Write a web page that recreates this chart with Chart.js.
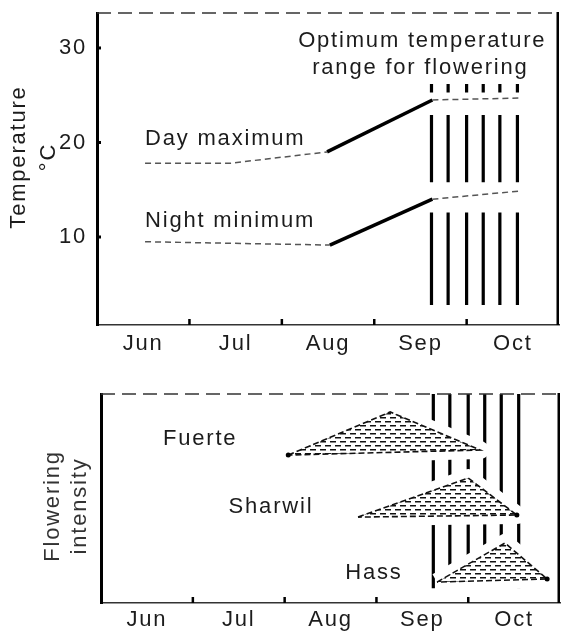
<!DOCTYPE html>
<html>
<head>
<meta charset="utf-8">
<script src="https://cdn.jsdelivr.net/npm/chart.js@4.4.1/dist/chart.umd.min.js"></script>
<style>
  html, body { margin: 0; padding: 0; background: #fff; overflow: hidden; }
  #wrap { position: relative; width: 568px; height: 634px; overflow: hidden; }
  canvas { position: absolute; left: 0; }
  #tempChart { top: 0; }
  #flowerChart { top: 360px; }
</style>
</head>
<body>
<div id="wrap">
  <canvas id="tempChart" width="568" height="360"></canvas>
  <canvas id="flowerChart" width="568" height="274"></canvas>
</div>
<script>
// x axis is in months: 0 = 1 June ... 5 = 1 November
const months = ["Jun", "Jul", "Aug", "Sep", "Oct"];
const monthMid = [0.5, 1.5, 2.5, 3.5, 4.5];
const monthEdges = [1, 2, 3, 4];
const tempTicks = [10, 20, 30];

// temperature, °C
const dayMaxX = [0.52, 1.44, 2.49, 3.63, 4.56];
const dayMax = [17.8, 17.8, 19.0, 24.5, 24.7];
const nightMinX = [0.52, 2.52, 3.63, 4.56];
const nightMin = [9.5, 9.15, 14.0, 14.85];

// optimum temperature range for flowering (vertical stripes)
const optimumX = [3.62, 3.80, 4.0, 4.18, 4.36, 4.55];
const optimumTempBands = [[26.2, 25.3], [22.9, 15.8], [12.6, 2.8]];
const optimumFlowerBand = [[10, 0.7]];

// flowering intensity (relative): start, peak, end of each cultivar
const cultivars = ["Fuerte", "Sharwil", "Hass"];
const flowerX = [[2.04, 3.15, 4.13], [2.80, 4.0, 4.53], [3.66, 4.40, 4.86]];
const flowerY = [[7.08, 9.14, 7.32], [4.11, 5.98, 4.21], [1.0, 2.87, 1.15]];

const FONT = "'Liberation Sans', Arial, Helvetica, sans-serif";
Chart.defaults.font.family = FONT;
Chart.defaults.font.size = 22;
Chart.defaults.color = "#1c1c1c";

function stripeData(bands) {
  const pts = [];
  optimumX.forEach(x => {
    bands.forEach(b => {
      pts.push({ x, y: b[0] }, { x, y: b[1] }, { x, y: null });
    });
  });
  return pts;
}

function hatch() {
  const c = document.createElement("canvas");
  c.width = 10; c.height = 8;
  const g = c.getContext("2d");
  g.fillStyle = "#111";
  g.fillRect(0, 1, 6, 1.5);
  g.fillRect(5, 5, 5, 1.5);
  g.fillRect(0, 5, 1, 1.5);
  return g.createPattern(c, "repeat");
}

function seg(ctx, x1, y1, x2, y2) {
  ctx.beginPath();
  ctx.moveTo(x1, y1);
  ctx.lineTo(x2, y2);
  ctx.stroke();
}

// spacing like the original lettering
const spacing = {
  id: "spacing",
  beforeDraw(chart) { chart.ctx.letterSpacing = "1.8px"; }
};

// top and right edges of the box, plus the small tick marks
function frame(chart, tickVals) {
  const { ctx, chartArea: a, scales: { x, y } } = chart;
  ctx.save();
  ctx.strokeStyle = "#333";
  ctx.lineWidth = 1.5;
  ctx.setLineDash([14, 7]);
  seg(ctx, a.left, a.top, a.right, a.top);
  ctx.setLineDash([]);
  ctx.fillStyle = "#000";
  ctx.fillRect(a.right - 2.5, a.top - 1, 2.5, a.bottom - a.top + 1);
  monthEdges.forEach(m => {
    const px = x.getPixelForValue(m);
    ctx.fillRect(px - 1.2, a.bottom - 6, 2.5, 6);
  });
  tickVals.forEach(v => {
    const py = y.getPixelForValue(v);
    ctx.fillRect(a.left, py - 1.5, 4, 3);
  });
  ctx.restore();
}

function label(ctx, text, px, py, align) {
  ctx.textAlign = align;
  ctx.textBaseline = "alphabetic";
  ctx.fillText(text, px, py);
}

function vtitle(ctx, text, px, py) {
  ctx.save();
  ctx.translate(px, py);
  ctx.rotate(-Math.PI / 2);
  ctx.textAlign = "center";
  ctx.textBaseline = "alphabetic";
  ctx.fillText(text, 0, 0);
  ctx.restore();
}

const tempDecor = {
  id: "tempDecor",
  afterDraw(chart) {
    const { ctx, scales: { x, y } } = chart;
    frame(chart, tempTicks);
    ctx.save();
    ctx.font = "22px " + FONT;
    ctx.letterSpacing = "1.8px";
    ctx.fillStyle = "#1c1c1c";
    label(ctx, "Optimum temperature", x.getPixelForValue(3.52), y.getPixelForValue(30.14), "center");
    label(ctx, "range for flowering", x.getPixelForValue(3.50), y.getPixelForValue(27.24), "center");
    label(ctx, "Day maximum", x.getPixelForValue(0.52), y.getPixelForValue(19.73), "left");
    label(ctx, "Night minimum", x.getPixelForValue(0.52), y.getPixelForValue(11.09), "left");
    vtitle(ctx, "Temperature", 25, 157);
    vtitle(ctx, "°C", 55, 157);
    ctx.restore();
  }
};

const flowerDecor = {
  id: "flowerDecor",
  afterDraw(chart) {
    const { ctx, scales: { x, y } } = chart;
    frame(chart, []);
    ctx.save();
    ctx.font = "22px " + FONT;
    ctx.letterSpacing = "1.8px";
    ctx.fillStyle = "#1c1c1c";
    label(ctx, cultivars[0], x.getPixelForValue(0.675), y.getPixelForValue(7.56), "left");
    label(ctx, cultivars[1], x.getPixelForValue(1.39), y.getPixelForValue(4.31), "left");
    label(ctx, cultivars[2], x.getPixelForValue(2.66), y.getPixelForValue(1.15), "left");
    ctx.fillStyle = "#333";
    vtitle(ctx, "Flowering", 59, 146);
    vtitle(ctx, "intensity", 86, 146);
    ctx.restore();
  }
};

const isRise = c => (c.p1.parsed.y - c.p0.parsed.y) / (c.p1.parsed.x - c.p0.parsed.x) > 3;
const curveSegment = {
  borderDash: c => isRise(c) ? [] : [6, 4],
  borderWidth: c => isRise(c) ? 3.5 : 1.5,
  borderColor: c => isRise(c) ? "#000" : "#555"
};

const noGrid = { display: false, drawTicks: false };

function scalesFor(xHeight, xPad, yMin, yMax, yWidth, yTicks) {
  return {
    x: {
      type: "linear", min: 0, max: 5,
      grid: noGrid,
      border: { color: "#333", width: 1.5, dash: [12, 6] },
      ticks: { padding: xPad, maxRotation: 0, autoSkip: false, callback: (v, i) => months[i] },
      afterBuildTicks: s => { s.ticks = monthMid.map(v => ({ value: v })); },
      afterFit: s => { s.height = xHeight; s.paddingLeft = 0; s.paddingRight = 0; }
    },
    y: {
      min: yMin, max: yMax,
      grid: noGrid,
      border: { color: "#000", width: 3 },
      ticks: { padding: 10, display: yTicks.length > 0 },
      afterBuildTicks: s => { if (yTicks.length) s.ticks = yTicks.map(v => ({ value: v })); },
      afterFit: s => { s.width = yWidth; s.paddingTop = 0; s.paddingBottom = 0; }
    }
  };
}

const common = {
  responsive: false,
  animation: false,
  events: [],
  plugins: { legend: { display: false }, tooltip: { enabled: false } },
  elements: { point: { radius: 0 }, line: { tension: 0, borderCapStyle: "butt" } }
};

new Chart(document.getElementById("tempChart"), {
  type: "line",
  data: {
    datasets: [
      {
        label: "Day maximum",
        data: dayMaxX.map((x, i) => ({ x, y: dayMax[i] })),
        segment: curveSegment, borderColor: "#555", order: 1
      },
      {
        label: "Night minimum",
        data: nightMinX.map((x, i) => ({ x, y: nightMin[i] })),
        segment: curveSegment, borderColor: "#555", order: 1
      },
      {
        label: "Optimum temperature range for flowering",
        data: stripeData(optimumTempBands),
        borderColor: "#000", borderWidth: 3.2, spanGaps: false, order: 2
      }
    ]
  },
  options: {
    ...common,
    layout: { padding: { top: 13, right: 9, left: 0, bottom: 0 } },
    scales: scalesFor(35, 6, 0.69, 33.7, 97, tempTicks)
  },
  plugins: [spacing, tempDecor]
});

const pattern = hatch();
const shapes = cultivars.map((name, k) => {
  const pts = flowerX[k].map((x, i) => ({ x, y: flowerY[k][i] }));
  pts.push(pts[0]);
  return pts;
});
const dots = [[2.5, 0, 0, 0], [0, 0, 2.5, 0], [0, 0, 2.5, 0]];

const flowerSets = [];
cultivars.forEach((name, k) => {
  flowerSets.push({
    label: name,
    data: shapes[k],
    fill: "shape",
    backgroundColor: pattern,
    borderColor: "#111",
    borderWidth: 1.6,
    borderDash: [6, 3],
    pointRadius: dots[k],
    pointBackgroundColor: "#000",
    pointBorderWidth: 0,
    order: 1
  });
});
cultivars.forEach((name, k) => {
  flowerSets.push({
    label: name + " clear",
    data: shapes[k],
    fill: "shape",
    backgroundColor: "#fff",
    borderColor: "#fff",
    borderWidth: 18,
    borderJoinStyle: "round",
    order: 2
  });
});
flowerSets.push({
  label: "Optimum range",
  data: stripeData(optimumFlowerBand),
  borderColor: "#000", borderWidth: 3.2, spanGaps: false, order: 3
});

new Chart(document.getElementById("flowerChart"), {
  type: "line",
  data: { datasets: flowerSets },
  options: {
    ...common,
    layout: { padding: { top: 34, right: 8, left: 0, bottom: 0 } },
    scales: scalesFor(31, 4, 0, 10, 101, [])
  },
  plugins: [spacing, flowerDecor]
});
</script>
</body>
</html>
